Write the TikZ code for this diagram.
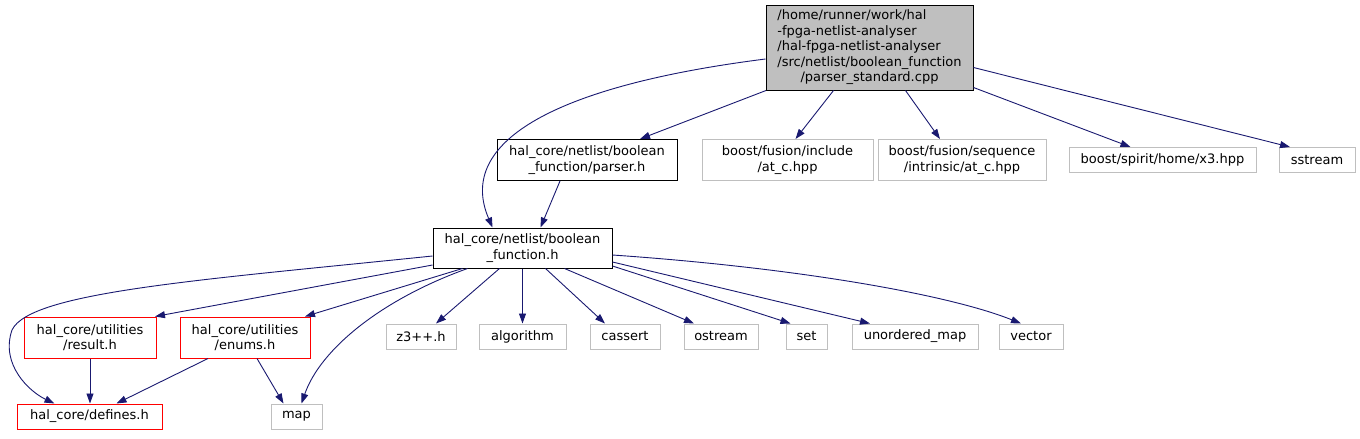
\documentclass[tikz,border=0pt]{standalone}
\usepackage{fontspec}
\setmainfont{DejaVu Sans}
\usetikzlibrary{arrows.meta, positioning, calc}
\definecolor{edgeblue}{HTML}{191970}
\definecolor{sysgray}{HTML}{BFBFBF}
\tikzset{
    hdr/.style={rectangle, draw, align=center, font=\fontsize{13}{15.5}\selectfont, inner xsep=5pt, inner ysep=3pt, line width=1pt},
    mainfile/.style={hdr, fill=sysgray, draw=black},
    localhdr/.style={hdr, fill=white, draw=black},
    redhdr/.style={hdr, fill=white, draw=red},
    syshdr/.style={hdr, fill=white, draw=sysgray},
    inc/.style={line width=0.9pt, draw=edgeblue, -{Triangle[length=10pt,width=7pt]}, fill=none}
}
\begin{document}
\begin{tikzpicture}[x=1pt, y=-1pt]
    \useasboundingbox (0,0) rectangle (1360,439);
    % top row
    \node (root) [mainfile, minimum width=207pt, minimum height=85pt] at (869.5,47.5) {\begin{tabular}{@{}l@{}}/home/runner/work/hal\\-fpga-netlist-analyser\\/hal-fpga-netlist-analyser\\/src/netlist/boolean\_function\\\multicolumn{1}{@{}c@{}}{/parser\_standard.cpp}\end{tabular}};
    % second row
    \node (parser) [localhdr, minimum width=180pt, minimum height=41pt] at (587,160) {hal\_core/netlist/boolean\\\_function/parser.h};
    \node (atc) [syshdr, minimum width=171pt, minimum height=41pt] at (787.5,160) {boost/fusion/include\\/at\_c.hpp};
    \node (seqatc) [syshdr, minimum width=168pt, minimum height=41pt] at (962,160) {boost/fusion/sequence\\/intrinsic/at\_c.hpp};
    \node (x3) [syshdr, minimum width=187pt, minimum height=25pt] at (1162.5,160) {boost/spirit/home/x3.hpp};
    \node (sstream) [syshdr, minimum width=76pt, minimum height=25pt] at (1317,160) {sstream};
    % third row
    \node (bf) [localhdr, minimum width=179pt, minimum height=40pt] at (522.5,248) {hal\_core/netlist/boolean\\\_function.h};
    % fourth row
    \node (result) [redhdr, minimum width=132pt, minimum height=41pt] at (90,337.5) {hal\_core/utilities\\/result.h};
    \node (enums) [redhdr, minimum width=130pt, minimum height=41pt] at (245,337.5) {hal\_core/utilities\\/enums.h};
    \node (z3) [syshdr, minimum width=70pt, minimum height=25pt] at (421,336.5) {z3++.h};
    \node (algo) [syshdr, minimum width=87pt, minimum height=25pt] at (522.5,336.5) {algorithm};
    \node (cassert) [syshdr, minimum width=70pt, minimum height=25pt] at (625,336.5) {cassert};
    \node (ostream) [syshdr, minimum width=74pt, minimum height=25pt] at (721,336.5) {ostream};
    \node (set) [syshdr, minimum width=41pt, minimum height=25pt] at (806.5,336.5) {set};
    \node (umap) [syshdr, minimum width=126pt, minimum height=25pt] at (915,336.5) {unordered\_map};
    \node (vector) [syshdr, minimum width=64pt, minimum height=25pt] at (1031,336.5) {vector};
    % bottom row
    \node (defines) [redhdr, minimum width=145pt, minimum height=25pt] at (89.5,416.5) {hal\_core/defines.h};
    \node (map) [syshdr, minimum width=51pt, minimum height=25pt] at (296.5,416.5) {map};
    % edges from the source file
    \draw [inc] ([yshift=-11.5pt]root.west) .. controls (560,85) and (455,140) .. ([xshift=-30pt]bf.north);
    \draw [inc] ([xshift=-103.5pt]root.south) -- ([xshift=53pt]parser.north);
    \draw [inc] ([xshift=-36pt]root.south) -- ([xshift=8pt]atc.north);
    \draw [inc] ([xshift=36pt]root.south) -- ([xshift=-22pt]seqatc.north);
    \draw [inc] ([yshift=-40pt]root.east) -- ([xshift=-32pt]x3.north);
    \draw [inc] ([yshift=-20pt]root.east) -- ([xshift=-27pt]sstream.north);
    \draw [inc] ([xshift=-27pt]parser.south) -- ([xshift=18pt]bf.north);
    % edges from boolean_function.h
    \draw [inc] ([yshift=-8pt]bf.west) .. controls (200,280) and (30,292) .. (12,330) .. controls (0,365) and (30,392) .. ([xshift=-35pt]defines.north);
    \draw [inc] ([yshift=-17pt]bf.west) -- ([xshift=65pt]result.north);
    \draw [inc] ([xshift=-60pt]bf.south) -- ([xshift=60pt]enums.north);
    \draw [inc] ([xshift=-55pt]bf.south) .. controls (380,300) and (320,350) .. ([xshift=5pt]map.north);
    \draw [inc] ([xshift=-23pt]bf.south) -- ([xshift=15pt]z3.north);
    \draw [inc] (bf.south) -- (algo.north);
    \draw [inc] ([xshift=23pt]bf.south) -- ([xshift=-20pt]cassert.north);
    \draw [inc] ([xshift=42pt]bf.south) -- ([xshift=-27pt]ostream.north);
    \draw [inc] ([yshift=-18pt]bf.east) -- ([xshift=-16pt]set.north);
    \draw [inc] ([yshift=-14pt]bf.east) -- ([xshift=-45pt]umap.north);
    \draw [inc] ([yshift=-7pt]bf.east) .. controls (800,268) and (950,295) .. ([xshift=-10pt]vector.north);
    % edges from the utility headers
    \draw [inc] (result.south) -- ([xshift=0.5pt]defines.north);
    \draw [inc] ([xshift=-37pt]enums.south) -- ([xshift=27pt]defines.north);
    \draw [inc] ([xshift=12pt]enums.south) -- ([xshift=-13pt]map.north);
\end{tikzpicture}
\end{document}
